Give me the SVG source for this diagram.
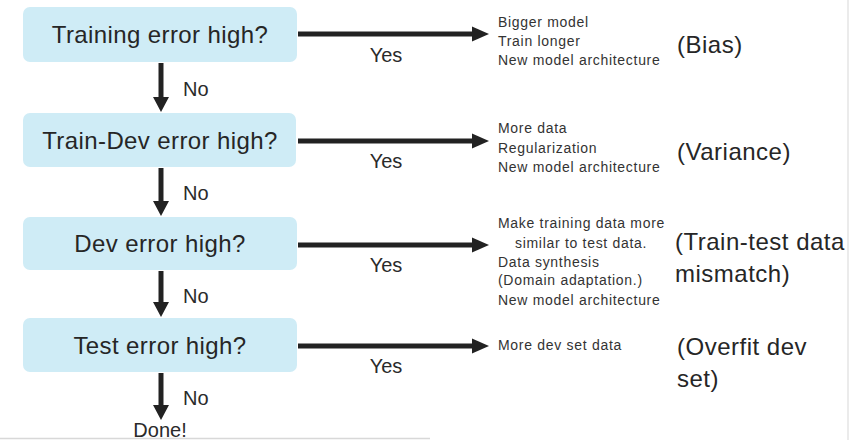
<svg xmlns="http://www.w3.org/2000/svg" width="851" height="440" viewBox="0 0 851 440">
<defs>
<style>
.box{fill:#cfecf6;}
.q{font-family:"Liberation Sans",Arial,sans-serif;font-size:24px;fill:#262626;text-anchor:middle;letter-spacing:0.4px;}
.lbl{font-family:"Liberation Sans",Arial,sans-serif;font-size:20px;fill:#2a2a2a;}
.act{font-family:"Liberation Sans",Arial,sans-serif;font-size:14px;fill:#333;letter-spacing:0.7px;}
.cat{font-family:"Liberation Sans",Arial,sans-serif;font-size:24px;fill:#262626;letter-spacing:0.5px;}
.line{stroke:#222;stroke-width:5;fill:none;}
.head{fill:#222;}
</style>
</defs>
<rect x="0" y="0" width="851" height="440" fill="#ffffff"/>
<line x1="848" y1="0" x2="848" y2="440" stroke="#e4e4e4" stroke-width="1.5"/>
<line x1="0" y1="438.5" x2="430" y2="438.5" stroke="#d8d8d8" stroke-width="1.5"/>

<g id="n1">
<rect class="box" x="23" y="7" width="274" height="55" rx="7"/>
<text class="q" x="160" y="43">Training error high?</text>
</g>
<g id="n2">
<rect class="box" x="23" y="113" width="273" height="54" rx="7"/>
<text class="q" x="160" y="148.5">Train-Dev error high?</text>
</g>
<g id="n3">
<rect class="box" x="23" y="217" width="274" height="53" rx="7"/>
<text class="q" x="160" y="252">Dev error high?</text>
</g>
<g id="n4">
<rect class="box" x="23" y="318" width="274" height="54" rx="7"/>
<text class="q" x="160" y="353.5">Test error high?</text>
</g>
<g id="done">
<text class="lbl" x="160" y="437" text-anchor="middle">Done!</text>
</g>

<g id="r1">
<text class="act" x="498" y="27">Bigger model</text>
<text class="act" x="498" y="46">Train longer</text>
<text class="act" x="498" y="65">New model architecture</text>
<text class="cat" x="677" y="53">(Bias)</text>
</g>
<g id="r2">
<text class="act" x="498" y="133">More data</text>
<text class="act" x="498" y="153">Regularization</text>
<text class="act" x="498" y="172">New model architecture</text>
<text class="cat" x="677" y="160">(Variance)</text>
</g>
<g id="r3">
<text class="act" x="498" y="228">Make training data more</text>
<text class="act" x="515" y="248">similar to test data.</text>
<text class="act" x="498" y="267">Data synthesis</text>
<text class="act" x="498" y="285">(Domain adaptation.)</text>
<text class="act" x="498" y="305">New model architecture</text>
<text class="cat" x="675" y="250">(Train-test data</text>
<text class="cat" x="675" y="282">mismatch)</text>
</g>
<g id="r4">
<text class="act" x="498" y="350">More dev set data</text>
<text class="cat" x="677" y="355">(Overfit dev</text>
<text class="cat" x="677" y="387">set)</text>
</g>

<g id="connectors">
<line class="line" x1="298" y1="34" x2="474" y2="34"/>
<polygon class="head" points="472,26.5 489,34 472,41.5"/>
<text class="lbl" x="386" y="62" text-anchor="middle">Yes</text>

<line class="line" x1="298" y1="141" x2="474" y2="141"/>
<polygon class="head" points="472,133.5 489,141 472,148.5"/>
<text class="lbl" x="386" y="168" text-anchor="middle">Yes</text>

<line class="line" x1="298" y1="245" x2="474" y2="245"/>
<polygon class="head" points="472,237.5 489,245 472,252.5"/>
<text class="lbl" x="386" y="272" text-anchor="middle">Yes</text>

<line class="line" x1="298" y1="346" x2="474" y2="346"/>
<polygon class="head" points="472,338.5 489,346 472,353.5"/>
<text class="lbl" x="386" y="373" text-anchor="middle">Yes</text>

<line class="line" x1="161" y1="63" x2="161" y2="99"/>
<polygon class="head" points="153,97 169,97 161,112"/>
<text class="lbl" x="183" y="96">No</text>

<line class="line" x1="161" y1="168" x2="161" y2="203"/>
<polygon class="head" points="153,201 169,201 161,216"/>
<text class="lbl" x="183" y="200">No</text>

<line class="line" x1="161" y1="271" x2="161" y2="304"/>
<polygon class="head" points="153,302 169,302 161,317"/>
<text class="lbl" x="183" y="303">No</text>

<line class="line" x1="161" y1="373" x2="161" y2="407"/>
<polygon class="head" points="153,405 169,405 161,420"/>
<text class="lbl" x="183" y="405">No</text>
</g>
</svg>
